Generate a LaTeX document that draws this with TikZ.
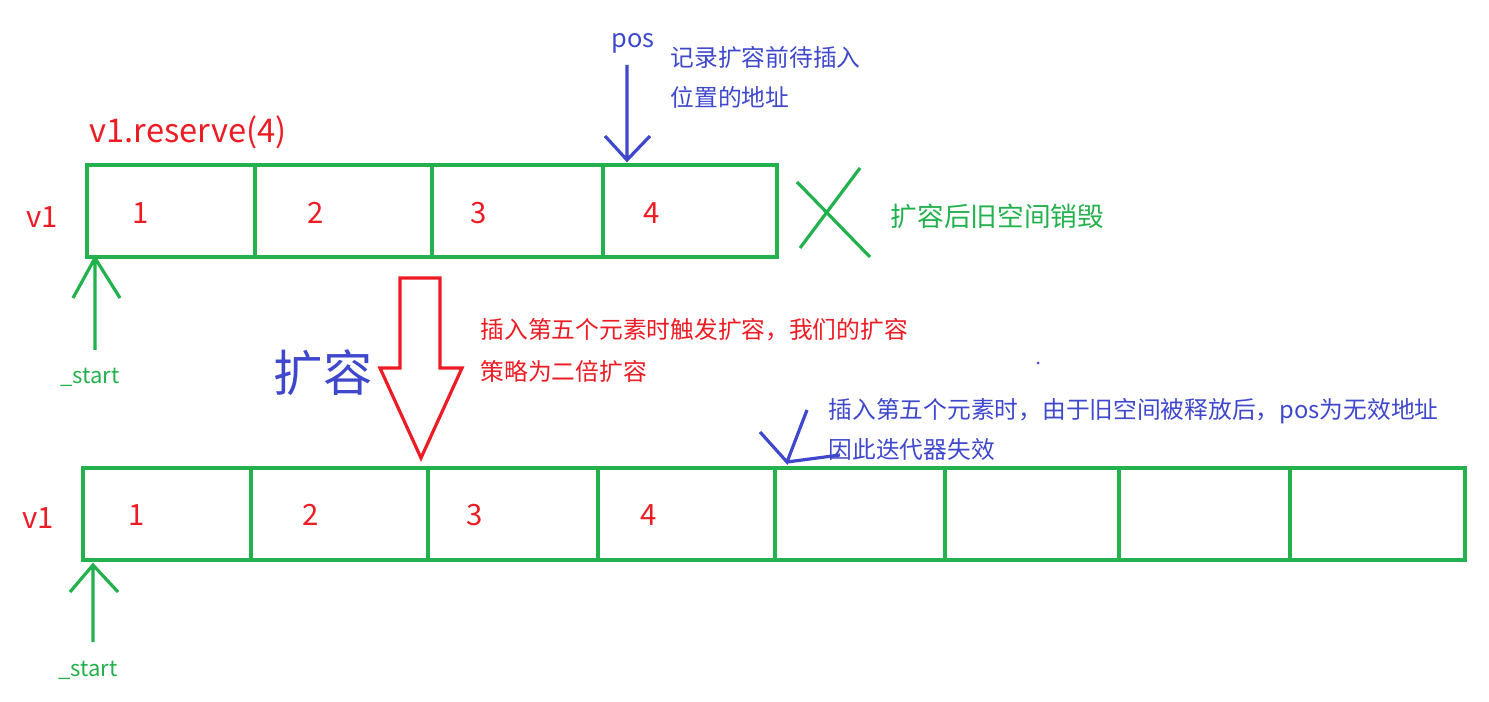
\documentclass[tikz,border=0pt]{standalone}
\usepackage{fontspec}
\setmainfont{Noto Sans CJK SC}
\begin{document}
\begin{tikzpicture}[x=0.75pt,y=-0.75pt,
 gbox/.style={draw=gr,line width=3.2pt},
 rt/.style={text=rd,font=\fontsize{22}{26}\selectfont},
 bt/.style={text=bl,font=\fontsize{17.8}{20}\selectfont,anchor=west},
 gl/.style={draw=gr,line width=2.4pt}]
\definecolor{gr}{RGB}{34,177,76}
\definecolor{rd}{RGB}{237,28,36}
\definecolor{bl}{RGB}{63,72,204}
\useasboundingbox (0,0) rectangle (1489,702);
% top row
\foreach \a/\b/\n/\t in {87/255/a1/1,255/432/a2/2,432/603/a3/3,603/777/a4/4}
  \node[gbox,minimum width=(\b-\a)*0.75pt,minimum height=69pt,inner sep=0pt] (\n) at ({(\a+\b)/2},211) {};
\foreach \x/\t in {141/1,316/2,479/3,652/4} \node[rt] at (\x,213) {\t};
\node[rt] (v1a) at (42,217) {v1};
\node[rt,font=\fontsize{24.5}{28}\selectfont] (res) at (188,132) {v1.reserve(4)};
% bottom row
\foreach \a/\b/\n in {83/251/b1,251/428/b2,428/598/b3,598/775/b4,775/945/b5,945/1119/b6,1119/1290/b7,1290/1465/b8}
  \node[gbox,minimum width=(\b-\a)*0.75pt,minimum height=69pt,inner sep=0pt] (\n) at ({(\a+\b)/2},514) {};
\foreach \x/\t in {137/1,311/2,475/3,649/4} \node[rt] at (\x,515) {\t};
\node[rt] (v1b) at (38,518) {v1};
% pos
\node[bt,anchor=center,font=\fontsize{19}{20}\selectfont] (pos) at (633,43) {pos};
\coordinate (pt) at (627,160);
\draw[draw=bl,line width=2.4pt] (627,65) -- (pt) (605,136) -- (pt) -- (650,136);
\node[bt] (n1) at (666,57) {记录扩容前待插入};
\node[bt] (n2) at (666,97) {位置的地址};
% X
\draw[gl] (797,182) -- (870,257) (860,168) -- (800,248);
\node[bt,text=gr,font=\fontsize{20}{22}\selectfont] (d) at (886,216) {扩容后旧空间销毁};
% starts
\coordinate (s1) at (95,258);
\draw[gl] (95,350) -- (s1) (73,298) -- (s1) -- (120,298);
\node[text=gr,font=\fontsize{16.5}{20}\selectfont] (st1) at (90,377) {\_start};
\coordinate (s2) at (93,565);
\draw[gl] (93,642) -- (s2) (70,592) -- (s2) -- (118,592);
\node[text=gr,font=\fontsize{16.5}{20}\selectfont] (st2) at (88,670) {\_start};
% big arrow
\draw[draw=rd,line width=2.4pt,line join=miter] (400,278) -- (440,278) -- (440,368) -- (462,368) -- (421,458) -- (380,368) -- (400,368) -- cycle;
\node[text=bl,font=\fontsize{37}{40}\selectfont] (ex) at (323,373) {扩容};
\node[bt,text=rd] (r1) at (476,330) {插入第五个元素时触发扩容，我们的扩容};
\node[bt,text=rd] (r2) at (476,371) {策略为二倍扩容};
\fill[bl] (1038,363) circle (1.5);
\node[bt] (m1) at (824,411) {插入第五个元素时，由于旧空间被释放后，pos为无效地址};
\node[bt] (m2) at (824,450) {因此迭代器失效};
\coordinate (pt2) at (787,462);
\draw[draw=bl,line width=2.4pt] (760,432) -- (pt2) -- (807,410) (pt2) -- (840,455);
\end{tikzpicture}
\end{document}
